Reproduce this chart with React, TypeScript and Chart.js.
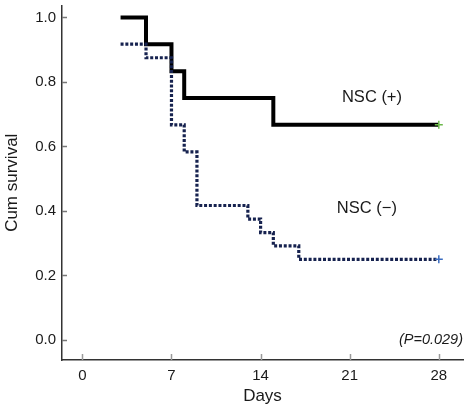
import React, { useEffect, useRef } from "react";
import { Chart, registerables } from "chart.js";

Chart.register(...registerables);

const posDays = [3, 5, 7, 8, 15, 28];
const posSurvival = [1.0, 0.917, 0.833, 0.75, 0.667, 0.667];
const negDays = [3, 5, 7, 8, 9, 13, 14, 15, 17, 28];
const negSurvival = [0.917, 0.875, 0.667, 0.583, 0.417, 0.375, 0.333, 0.292, 0.25, 0.25];
const xTicks = [0, 7, 14, 21, 28];
const yTicks = [0, 0.2, 0.4, 0.6, 0.8, 1.0];
const posLabel = "NSC (+)";
const negLabel = "NSC (\u2212)";
const pLabel = "(P=0.029)";
const xTitle = "Days";
const yTitle = "Cum survival";

const FONT = "'Liberation Sans', Arial, Helvetica, sans-serif";

const overlayPlugin = {
  id: "overlay",
  afterDraw(chart: any) {
    const ctx = chart.ctx;
    const xs = chart.scales.x;
    const ys = chart.scales.y;
    const area = chart.chartArea;
    ctx.save();
    ctx.strokeStyle = "#9a9a9a";
    ctx.lineWidth = 1.5;
    xTicks.forEach((v) => {
      const px = Math.round(xs.getPixelForValue(v)) + 0.5;
      ctx.beginPath();
      ctx.moveTo(px, area.bottom);
      ctx.lineTo(px, area.bottom - 6);
      ctx.stroke();
    });
    ctx.strokeStyle = "#777";
    yTicks.forEach((v) => {
      const py = Math.round(ys.getPixelForValue(v)) + 0.5;
      ctx.beginPath();
      ctx.moveTo(area.left, py);
      ctx.lineTo(area.left + 5, py);
      ctx.stroke();
    });
    ctx.fillStyle = "#1a1a1a";
    ctx.textBaseline = "middle";
    ctx.textAlign = "center";
    ctx.font = `16.5px ${FONT}`;
    ctx.fillText(posLabel, xs.getPixelForValue(22.75), ys.getPixelForValue(0.751));
    ctx.fillText(negLabel, xs.getPixelForValue(22.35), ys.getPixelForValue(0.409));
    ctx.textAlign = "right";
    ctx.font = `italic 14.5px ${FONT}`;
    ctx.fillText(pLabel, area.right, ys.getPixelForValue(0.0));
    ctx.restore();
  },
};

export default function App() {
  const ref = useRef<HTMLCanvasElement | null>(null);
  useEffect(() => {
    if (!ref.current) return;
    const posPts = posDays.map((d, i) => ({ x: d, y: posSurvival[i] }));
    const negPts = negDays.map((d, i) => ({ x: d, y: negSurvival[i] }));
    const endRadius = (n: number) => (ctx: any) => (ctx.dataIndex === n - 1 ? 4 : 0);
    const chart = new Chart(ref.current, {
      type: "line",
      data: {
        datasets: [
          {
            label: negLabel,
            data: negPts,
            stepped: "before",
            borderColor: "#16224f",
            borderWidth: 3.2,
            borderDash: [3, 1.8],
            fill: false,
            pointStyle: "cross",
            pointRadius: endRadius(negPts.length),
            pointBorderColor: "#3a6cc0",
            pointBorderWidth: 1.5,
          },
          {
            label: posLabel,
            data: posPts,
            stepped: "before",
            borderColor: "#000000",
            borderWidth: 4,
            fill: false,
            pointStyle: "cross",
            pointRadius: endRadius(posPts.length),
            pointBorderColor: "#6cb84a",
            pointBorderWidth: 1.5,
          },
        ],
      },
      options: {
        responsive: false,
        animation: false,
        layout: { padding: { top: 3, right: 6, left: 0, bottom: 0 } },
        plugins: { legend: { display: false }, tooltip: { enabled: false } },
        scales: {
          x: {
            type: "linear",
            min: -1.6,
            max: 29.9,
            afterBuildTicks: (s: any) => {
              s.ticks = xTicks.map((v) => ({ value: v }));
            },
            afterFit: (s: any) => {
              s.height = 50;
              s.paddingLeft = 0;
              s.paddingRight = 0;
            },
            grid: { display: true, drawOnChartArea: false, drawTicks: false },
            border: { display: true, color: "#333", width: 1.5 },
            ticks: {
              padding: 7,
              color: "#1a1a1a",
              font: { family: FONT, size: 15 },
              maxRotation: 0,
              callback: (v: any) => String(v),
            },
            title: {
              display: true,
              text: xTitle,
              color: "#1a1a1a",
              font: { family: FONT, size: 17 },
              padding: { top: 0, bottom: 3 },
            },
          },
          y: {
            type: "linear",
            min: -0.062,
            max: 1.037,
            afterBuildTicks: (s: any) => {
              s.ticks = yTicks.map((v) => ({ value: v }));
            },
            afterFit: (s: any) => {
              s.width = 62;
              s.paddingTop = 0;
              s.paddingBottom = 0;
            },
            grid: { display: true, drawOnChartArea: false, drawTicks: false },
            border: { display: true, color: "#333", width: 1.5 },
            ticks: {
              padding: 6,
              color: "#1a1a1a",
              font: { family: FONT, size: 15 },
              callback: (v: any) => Number(v).toFixed(1),
            },
            title: {
              display: true,
              text: yTitle,
              color: "#1a1a1a",
              font: { family: FONT, size: 17 },
              padding: { top: 2, bottom: 0 },
            },
          },
        },
      },
      plugins: [overlayPlugin],
    } as any);
    return () => chart.destroy();
  }, []);
  return (
    <div style={{ position: "fixed", left: 0, top: 0, width: 469, height: 410, background: "#fff" }}>
      <canvas ref={ref} width={469} height={410} />
    </div>
  );
}
